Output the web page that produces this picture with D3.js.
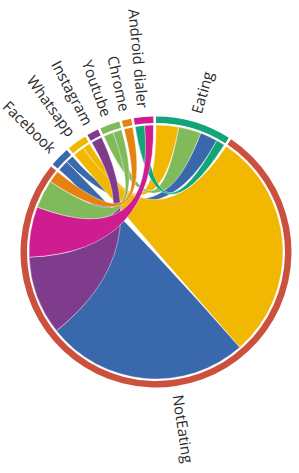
<!DOCTYPE html>
<html>
<head>
<meta charset="utf-8">
<script src="https://cdn.jsdelivr.net/npm/d3@7"></script>
<style>
  body { margin: 0; background: #fff; }
  text { font-family: "Open Sans", sans-serif; }
</style>
</head>
<body>
<svg id="chart"></svg>
<script>
const names  = ["Eating", "NotEating", "Facebook", "Whatsapp", "Instagram", "Youtube", "Chrome", "Android dialer"];
const colors = ["#11A579", "#CC503E", "#3969AC", "#F2B701", "#7F3C8D", "#80BA5A", "#E68310", "#CF1C90"];

// one row per group, columns in the same order as names
const fromEating    = [0,   0,   8.0, 10.4, 0,  10.2, 0,   3.9];
const fromNotEating = [0,   0,   93,  105,  36, 13,   5.5, 23];
const fromFacebook  = [3.5, 5,   0,   0,    0,  0,    0,   0];
const fromWhatsapp  = [3.5, 5,   0,   0,    0,  0,    0,   0];
const fromInstagram = [0,   5,   0,   0,    0,  0,    0,   0];
const fromYoutube   = [4.5, 4,   0,   0,    0,  0,    0,   0];
const fromChrome    = [0,   4,   0,   0,    0,  0,    0,   0];
const fromAndroid   = [4.3, 4.0, 0,   0,    0,  0,    0,   0];

const matrix = [fromEating, fromNotEating, fromFacebook, fromWhatsapp,
                fromInstagram, fromYoutube, fromChrome, fromAndroid];

const width = 299, height = 473;
const cx = 156, cy = 252;
const outerRadius = 135.5;
const innerRadius = 129;
const ribbonRadius = 127;

const svg = d3.select("#chart")
    .attr("width", width)
    .attr("height", height);

const g = svg.append("g")
    .attr("transform", `translate(${cx},${cy})`);

const chord = d3.chord()
    .padAngle(0.02)
    .sortSubgroups(d3.descending);

const chords = chord(matrix);

const arc = d3.arc()
    .innerRadius(innerRadius)
    .outerRadius(outerRadius);

const ribbon = d3.ribbon()
    .radius(ribbonRadius);

const color = d3.scaleOrdinal()
    .domain(d3.range(names.length))
    .range(colors);

g.append("g")
  .selectAll("path")
  .data(chords)
  .join("path")
    .attr("d", ribbon)
    .attr("fill", d => color(d.target.index))
    .attr("stroke", "#fff")
    .attr("stroke-opacity", 0.7)
    .attr("stroke-width", 0.6);

g.append("g")
  .selectAll("path")
  .data(chords.groups)
  .join("path")
    .attr("d", arc)
    .attr("fill", d => color(d.index));

g.append("g")
    .attr("font-size", 15)
    .attr("fill", "#2a2a2a")
  .selectAll("text")
  .data(chords.groups)
  .join("text")
    .each(d => { d.angle = (d.startAngle + d.endAngle) / 2; })
    .attr("dy", "0.35em")
    .attr("transform", d => `rotate(${d.angle * 180 / Math.PI - 90}) translate(${outerRadius + 9})` +
        (d.angle > Math.PI ? " rotate(180)" : ""))
    .attr("text-anchor", d => d.angle > Math.PI ? "end" : null)
    .text(d => names[d.index]);
</script>
</body>
</html>
